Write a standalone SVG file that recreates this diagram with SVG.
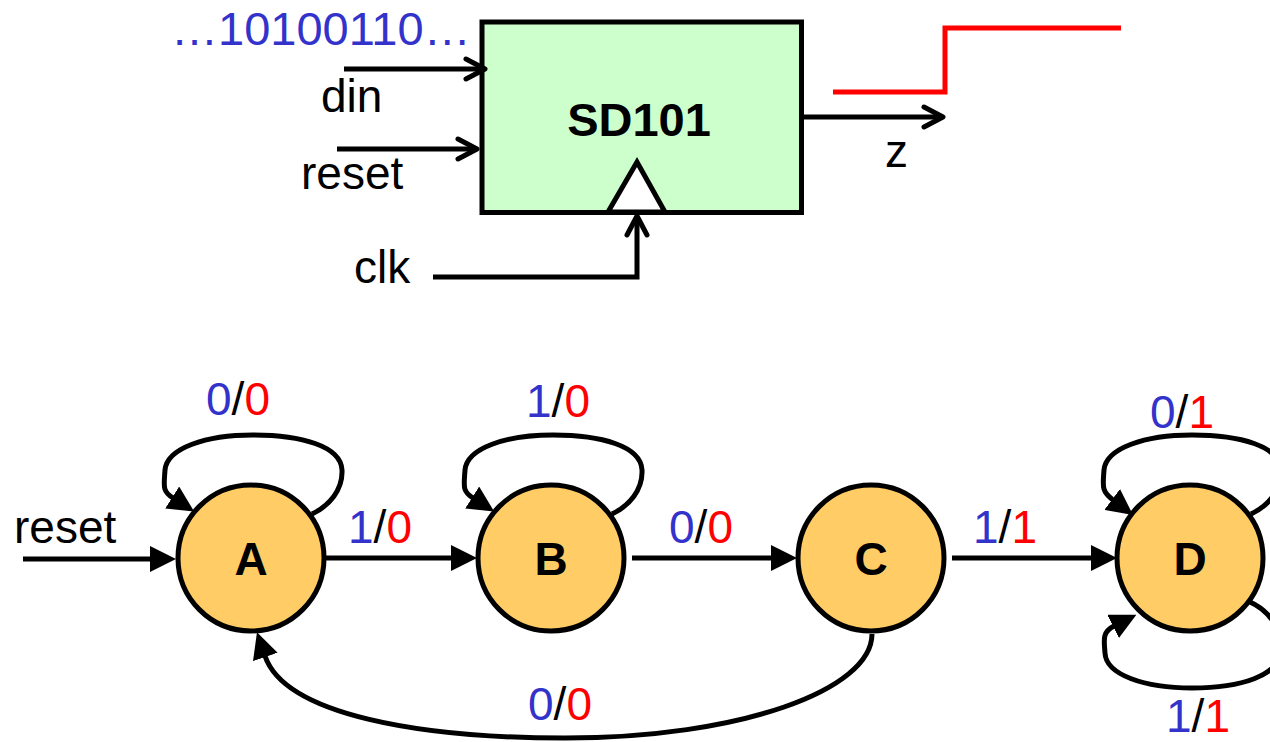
<svg xmlns="http://www.w3.org/2000/svg" width="1270" height="742" viewBox="0 0 1270 742">
  <style>
    text { font-family: "Liberation Sans", Arial, sans-serif; }
    .lbl { font-size: 46px; fill: #000; }
    .sig { font-size: 46px; fill: #000; }
    .b { fill: #3333CC; }
    .r { fill: #FF0000; }
    .state circle { fill: #FFCC66; stroke: #000; stroke-width: 5; }
    .state text { font-size: 46px; font-weight: bold; text-anchor: middle; fill: #000; }
    .wire { fill: none; stroke: #000; stroke-width: 5; }
    .arr { marker-end: url(#tri); }
    .open { marker-end: url(#chev); }
  </style>
  <defs>
    <marker id="tri" markerUnits="userSpaceOnUse" markerWidth="26" markerHeight="26" viewBox="0 0 26 26" refX="1" refY="13" orient="auto">
      <path d="M0,0 L26,13 L0,26 z" fill="#000"/>
    </marker>
    <marker id="chev" markerUnits="userSpaceOnUse" markerWidth="30" markerHeight="30" viewBox="-25 -15 30 30" refX="0" refY="0" orient="auto" overflow="visible">
      <path d="M-19,-10 L0,0 L-19,10" fill="none" stroke="#000" stroke-width="5" stroke-linecap="round" stroke-linejoin="round"/>
    </marker>
  </defs>

  <!-- Top block -->
  <g id="sd101">
    <rect x="482" y="22" width="319.5" height="190.5" fill="#CCFFCC" stroke="#000" stroke-width="5"/>
    <polygon points="637,162 608,212 665,212" fill="#FFFFFF" stroke="#000" stroke-width="5" stroke-linejoin="miter"/>
    <text x="639" y="136" font-size="47" font-weight="bold" text-anchor="middle">SD101</text>
  </g>

  <g id="signals">
    <text x="171" y="45" font-size="47" class="b">…10100110…</text>
    <text class="sig" x="321" y="112">din</text>
    <text class="sig" x="301" y="189">reset</text>
    <text class="sig" x="354" y="283">clk</text>
    <text class="sig" x="885" y="167">z</text>
    <polyline id="waveform" points="833,92 945,92 945,28 1121,28" fill="none" stroke="#FF0000" stroke-width="5"/>
  </g>

  <!-- States -->
  <g id="node-A" class="state">
    <circle cx="251" cy="558" r="73"/>
    <text x="251" y="575">A</text>
  </g>
  <g id="node-B" class="state">
    <circle cx="551" cy="558" r="73"/>
    <text x="551" y="575">B</text>
  </g>
  <g id="node-C" class="state">
    <circle cx="871" cy="558" r="73"/>
    <text x="871" y="575">C</text>
  </g>
  <g id="node-D" class="state">
    <circle cx="1190" cy="558" r="73"/>
    <text x="1190" y="575">D</text>
  </g>

  <!-- Connectors -->
  <g id="connectors">
    <line class="wire open" x1="344" y1="69" x2="485" y2="69"/>
    <line class="wire open" x1="337" y1="149" x2="477" y2="149"/>
    <line class="wire open" x1="802" y1="117" x2="943" y2="117"/>
    <polyline class="wire open" points="433,277 637,277 637,216"/>

    <line class="wire arr" x1="23" y1="559" x2="151" y2="559"/>
    <line class="wire arr" x1="325" y1="558" x2="452" y2="558"/>
    <line class="wire arr" x1="632" y1="558" x2="772" y2="558"/>
    <line class="wire arr" x1="952" y1="558" x2="1092" y2="558"/>

    <path class="wire arr" d="M312,514 C329,506 343,490 342,470 C341,446 301,435 253,435 C206,435 167,448 165,470 C164,486 162,491 173,498"/>
    <path class="wire arr" d="M612,514 C629,506 643,490 642,470 C641,446 601,435 553,435 C506,435 467,448 465,470 C464,486 462,491 473,498"/>
    <path class="wire arr" d="M1251,514 C1268,506 1282,490 1281,470 C1280,446 1240,435 1192,435 C1145,435 1106,448 1104,470 C1103,486 1101,491 1113,500"/>
    <path class="wire arr" d="M1250,602 C1268,610 1282,628 1281,650 C1280,676 1240,688 1192,688 C1145,688 1106,675 1105,653 C1104,640 1102,632 1114,626"/>

    <path class="wire arr" d="M872,634 C872,690 740,738 565,738 C420,738 285,715 265,656"/>
  </g>

  <!-- Transition labels -->
  <g id="labels">
    <text class="sig" x="14" y="543">reset</text>
    <text class="lbl" x="206" y="415"><tspan class="b">0</tspan>/<tspan class="r">0</tspan></text>
    <text class="lbl" x="526" y="417"><tspan class="b">1</tspan>/<tspan class="r">0</tspan></text>
    <text class="lbl" x="1150" y="428"><tspan class="b">0</tspan>/<tspan class="r">1</tspan></text>
    <text class="lbl" x="348" y="543"><tspan class="b">1</tspan>/<tspan class="r">0</tspan></text>
    <text class="lbl" x="669" y="543"><tspan class="b">0</tspan>/<tspan class="r">0</tspan></text>
    <text class="lbl" x="973" y="543"><tspan class="b">1</tspan>/<tspan class="r">1</tspan></text>
    <text class="lbl" x="528" y="720"><tspan class="b">0</tspan>/<tspan class="r">0</tspan></text>
    <text class="lbl" x="1166" y="732"><tspan class="b">1</tspan>/<tspan class="r">1</tspan></text>
  </g>
</svg>
